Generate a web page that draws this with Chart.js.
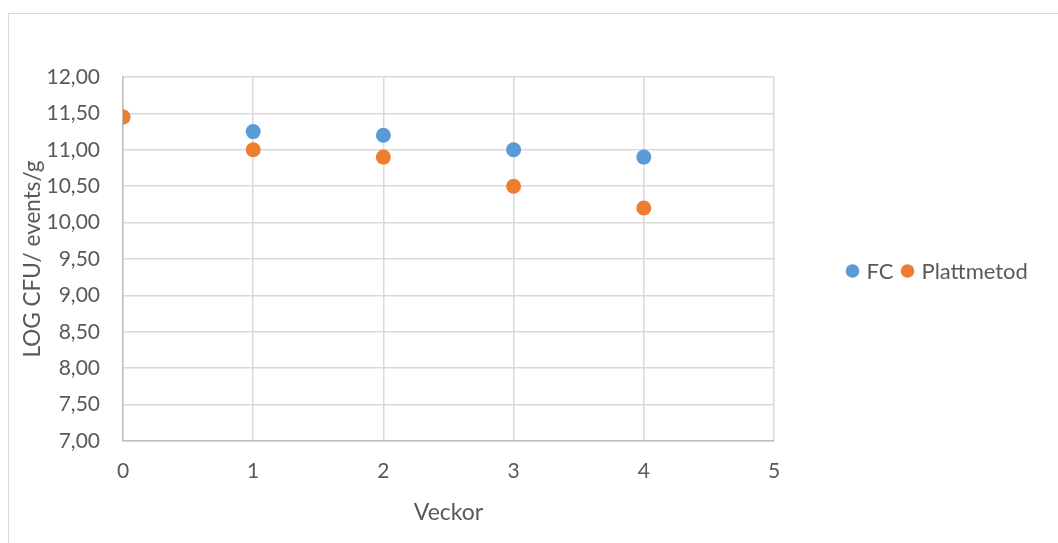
<!DOCTYPE html>
<html>
<head>
<meta charset="utf-8">
<script src="https://cdn.jsdelivr.net/npm/chart.js@4/dist/chart.umd.min.js"></script>
<style>
  html, body { margin: 0; padding: 0; background: #ffffff; overflow: hidden; }
  #frame {
    position: absolute; left: 8px; top: 13px; width: 1200px; height: 700px;
    border: 1px solid #d9d9d9; box-sizing: border-box;
  }
  #wrap { position: absolute; left: 0; top: 0; width: 1058px; height: 543px; }
</style>
</head>
<body>
<div id="frame"></div>
<div id="wrap"><canvas id="c" width="1058" height="543"></canvas></div>
<script>
// Weeks of storage
const weeks = [0, 1, 2, 3, 4];
// Log counts per gram
const fcValues = [11.45, 11.25, 11.20, 11.00, 10.90];
const plateValues = [11.45, 11.00, 10.90, 10.50, 10.20];
const seriesNames = ['FC', 'Plattmetod'];
const seriesColors = ['#5B9BD5', '#ED7D31'];

const FONT = 'Lato, "Open Sans", sans-serif';
const TEXT = '#595959';

const toPoints = (vals) => weeks.map((w, i) => ({ x: w, y: vals[i] }));

// Legend drawn to the right of the plot, Excel style
const sideLegend = {
  id: 'sideLegend',
  afterDraw(chart) {
    const ctx = chart.ctx;
    ctx.save();
    ctx.font = '22px ' + FONT;
    ctx.textBaseline = 'middle';
    let x = 852.5;
    const y = 271;
    chart.data.datasets.forEach((ds) => {
      ctx.fillStyle = ds.backgroundColor;
      ctx.beginPath();
      ctx.arc(x, y, 6.8, 0, Math.PI * 2);
      ctx.fill();
      ctx.fillStyle = TEXT;
      ctx.textAlign = 'left';
      ctx.fillText(ds.label, x + 14, y + 1);
      x += 14 + ctx.measureText(ds.label).width + 14;
    });
    ctx.restore();
  }
};

new Chart(document.getElementById('c'), {
  type: 'scatter',
  data: {
    datasets: [
      {
        label: seriesNames[0],
        data: toPoints(fcValues),
        backgroundColor: seriesColors[0],
        borderColor: seriesColors[0],
        pointRadius: 7.5,
        pointHoverRadius: 7.5,
        borderWidth: 0,
        order: 2
      },
      {
        label: seriesNames[1],
        data: toPoints(plateValues),
        backgroundColor: seriesColors[1],
        borderColor: seriesColors[1],
        pointRadius: 7.5,
        pointHoverRadius: 7.5,
        borderWidth: 0,
        order: 1
      }
    ]
  },
  options: {
    responsive: false,
    animation: false,
    events: [],
    layout: { padding: { left: 19, top: 77, right: 284, bottom: 0 } },
    plugins: {
      legend: { display: false },
      tooltip: { enabled: false }
    },
    scales: {
      x: {
        type: 'linear',
        min: 0,
        max: 5,
        ticks: { stepSize: 1, color: TEXT, font: { family: FONT, size: 21 }, padding: 18 },
        grid: { color: '#d9d9d9', lineWidth: 1.5, drawTicks: false },
        border: { color: '#bfbfbf', width: 1.5 },
        title: { display: true, text: 'Veckor', color: TEXT, font: { family: FONT, size: 23 }, padding: { top: 4, bottom: 17 } },
        afterFit(s) { s.height = 102; }
      },
      y: {
        min: 7,
        max: 12,
        ticks: {
          stepSize: 0.5,
          color: TEXT,
          font: { family: FONT, size: 21 },
          padding: 23,
          callback: (v) => v.toFixed(2).replace('.', ',')
        },
        grid: { color: '#d9d9d9', lineWidth: 1.5, drawTicks: false },
        border: { color: '#bfbfbf', width: 1.5 },
        title: { display: true, text: 'LOG CFU/ events/g', color: TEXT, font: { family: FONT, size: 22.5 }, padding: { top: 0, bottom: 8 } },
        afterFit(s) { s.width = 104; }
      }
    }
  },
  plugins: [sideLegend]
});
</script>
</body>
</html>
